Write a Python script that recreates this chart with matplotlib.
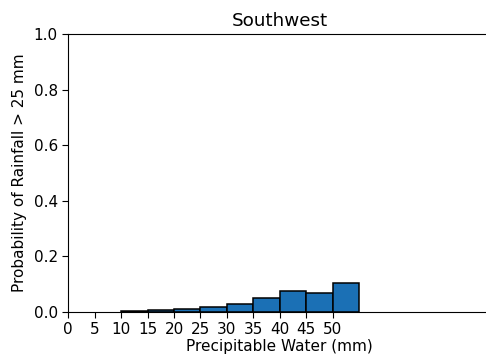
import numpy as np
import matplotlib
matplotlib.use("Agg")
import matplotlib.pyplot as plt

# --- Data ---
bin_left = [10, 15, 20, 25, 30, 35, 40, 45, 50]
prob = [0.003, 0.006, 0.010, 0.019, 0.030, 0.050, 0.077, 0.070, 0.104]
bin_width = 5
x_ticks = [0, 5, 10, 15, 20, 25, 30, 35, 40, 45, 50]
y_ticks = [0.0, 0.2, 0.4, 0.6, 0.8, 1.0]

fig = plt.figure(figsize=(4.86, 3.56), dpi=100)
# axes runs a bit past the right edge of the figure, as in the reference
ax = fig.add_axes([68.3 / 486, 44 / 356, 423 / 486, 278 / 356])

ax.bar(bin_left, prob, width=bin_width, align='edge',
       color='#1b70b5', edgecolor='black', linewidth=1.1)

ax.set_xlim(0, 80)
ax.set_ylim(0, 1.0)
ax.set_xticks(x_ticks)
ax.set_yticks(y_ticks)
ax.tick_params(labelsize=11, length=4)
ax.set_title('Southwest', fontsize=13.2, pad=6)
ax.set_xlabel('Precipitable Water (mm)', fontsize=11, labelpad=1)
ax.set_ylabel('Probability of Rainfall > 25 mm', fontsize=11, labelpad=5)

fig.savefig('out.png', dpi=100)
